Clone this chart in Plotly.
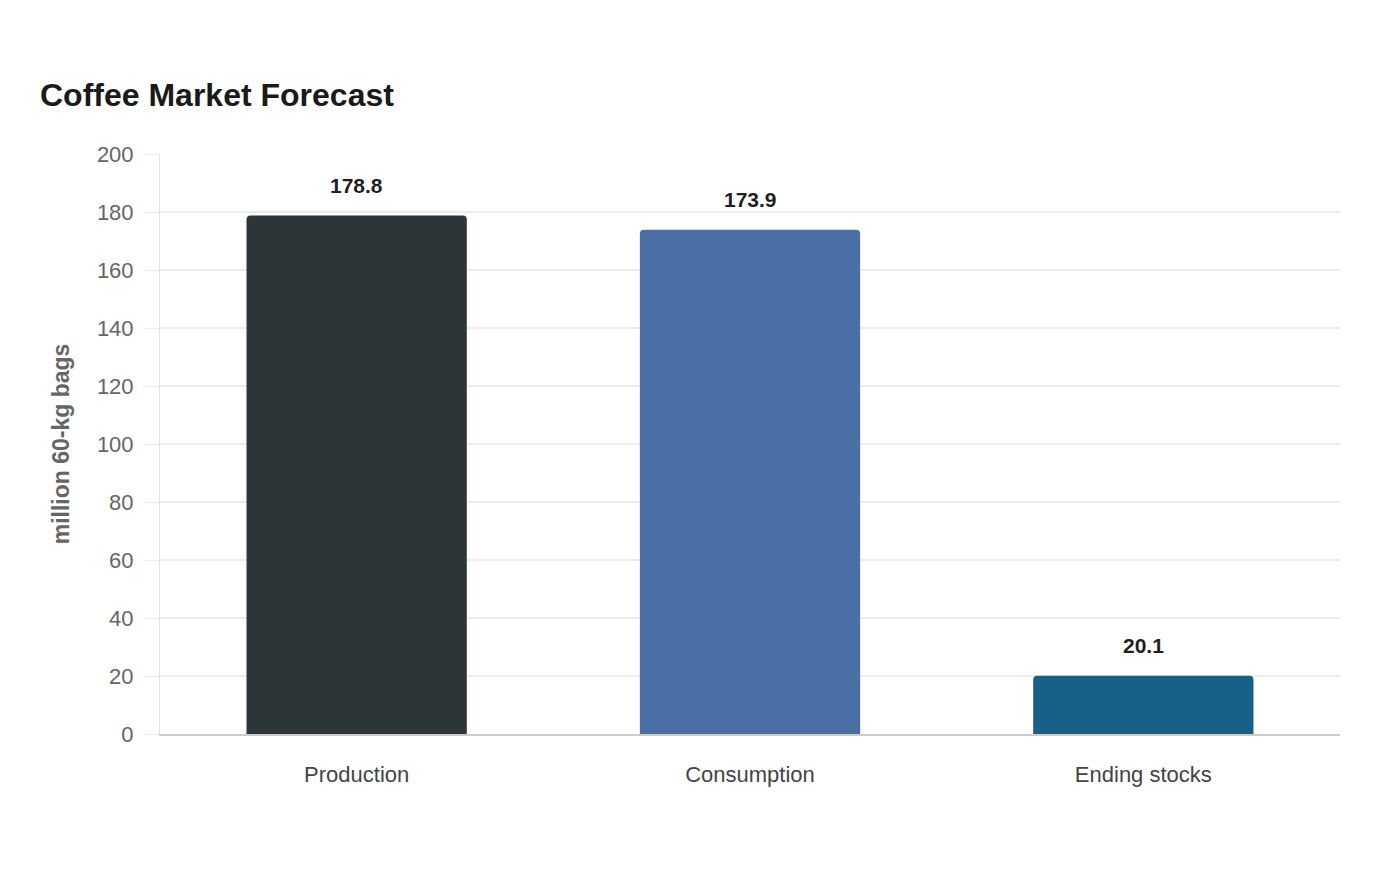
import plotly.graph_objects as go

categories = ["Production", "Consumption", "Ending stocks"]
values = [178.8, 173.9, 20.1]
colors = ["#2d3538", "#4a6fa5", "#176087"]
tick_vals = [0, 20, 40, 60, 80, 100, 120, 140, 160, 180, 200]

FONT = "Liberation Sans, Arial, sans-serif"

fig = go.Figure()
fig.add_trace(go.Bar(
    x=categories, y=values,
    marker=dict(color=colors, line=dict(width=0)),
    hoverinfo="x+y",
))

for c, v in zip(categories, values):
    fig.add_annotation(x=c, y=v, text=f"<b>{v:.1f}</b>", showarrow=False,
                       yshift=30, font=dict(family=FONT, size=21, color="#1f1f1f"))

fig.update_layout(
    width=1400, height=880,
    paper_bgcolor="white", plot_bgcolor="white",
    margin=dict(l=160, r=60, t=154, b=146),
    bargap=0.44,
    barcornerradius=4,
    showlegend=False,
    title=dict(text="<b>Coffee Market Forecast</b>", x=40/1400, xanchor="left",
               y=1-95/880, yanchor="middle",
               font=dict(family=FONT, size=32, color="#1a1a1a")),
    font=dict(family=FONT),
)
fig.update_yaxes(
    range=[0, 200], tickvals=tick_vals,
    showgrid=True, gridcolor="#ececec", gridwidth=1.5,
    ticks="outside", ticklen=15, tickcolor="#ececec",
    tickfont=dict(family=FONT, size=22, color="#666666"),
    ticklabelstandoff=6,
    showline=True, linecolor="#e3e3e3", linewidth=1,
    zeroline=False,
    title=dict(text="<b>million 60-kg bags</b>", standoff=20,
               font=dict(family=FONT, size=23, color="#666666")),
)
fig.update_xaxes(
    showline=True, linecolor="#cccccc", linewidth=1.5,
    ticks="", tickfont=dict(family=FONT, size=22, color="#444444"),
    ticklabelstandoff=20,
)

fig.write_html("out.html")
